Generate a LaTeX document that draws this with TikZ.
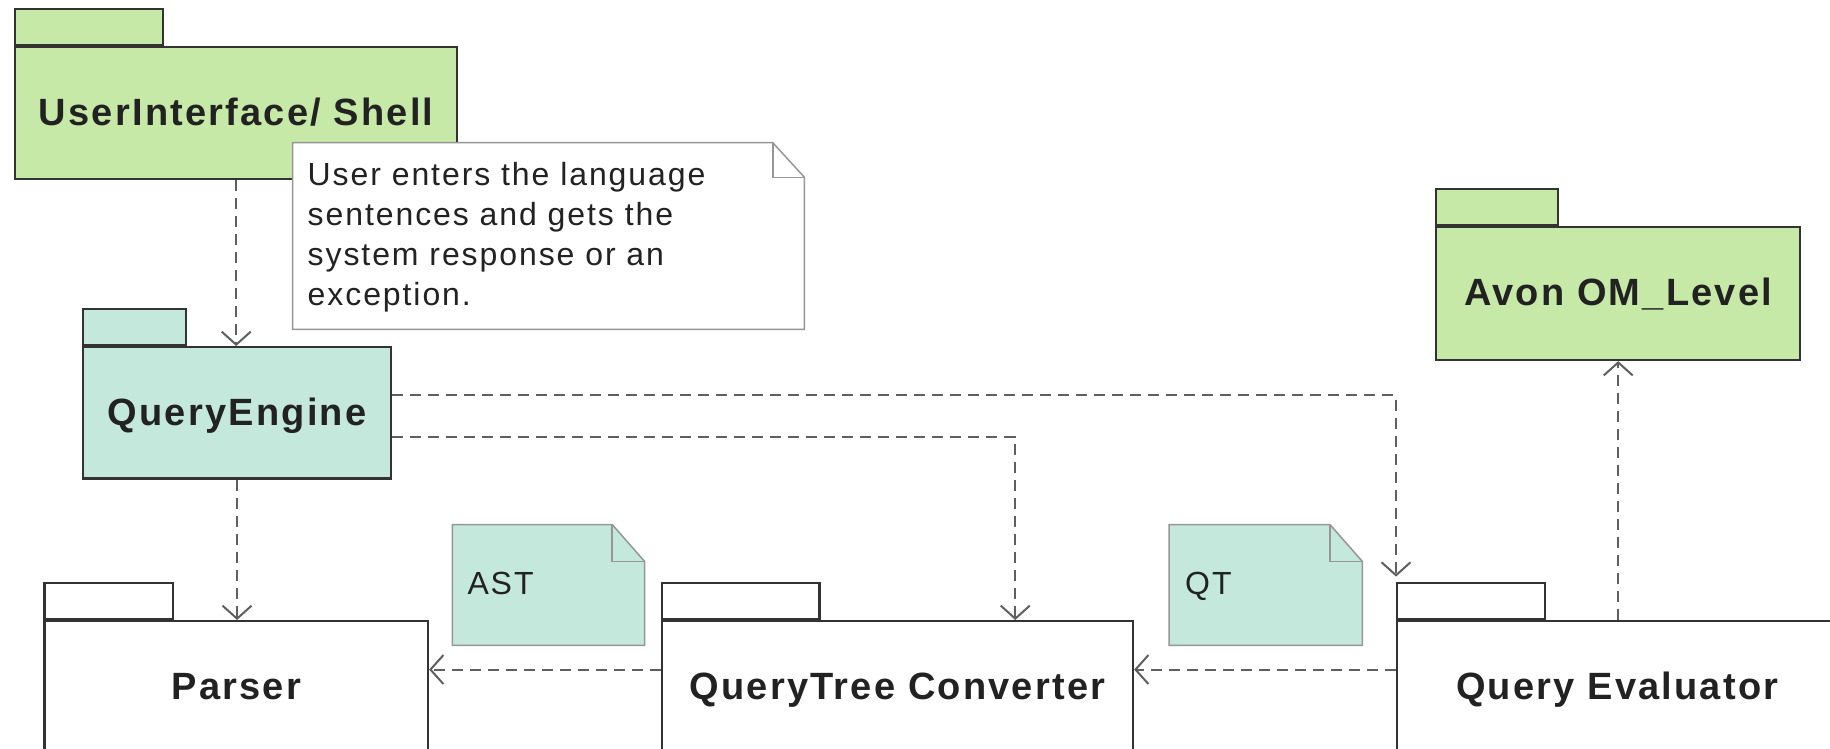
\documentclass[tikz,border=0pt]{standalone}
\usepackage{fontspec}
\setmainfont{Liberation Sans}
\newfontfamily\titlefam[LetterSpace=5.8]{Liberation Sans}
\newfontfamily\notefam[LetterSpace=6]{Liberation Sans}
\usetikzlibrary{arrows.meta}

\definecolor{pkggreen}{RGB}{199,233,167}
\definecolor{pkgteal}{RGB}{196,232,220}
\definecolor{linedark}{RGB}{51,51,51}
\definecolor{depgray}{RGB}{95,95,95}
\definecolor{notegray}{RGB}{150,150,150}
\definecolor{textdark}{RGB}{34,34,34}

\begin{document}
\begin{tikzpicture}[x=1pt,y=-1pt,
  pkgbody/.style={draw=linedark, line width=2.4pt, inner sep=0pt, anchor=north west,
    text=textdark, font=\titlefam\bfseries\fontsize{38}{44}\selectfont,
    text height=27.4pt, text depth=3pt},
  pkgtab/.style={draw=linedark, line width=2.4pt, inner sep=0pt, anchor=south west,
    minimum height=36pt},
  dep/.style={draw=depgray, line width=2pt, dash pattern=on 11pt off 7pt,
    -{Straight Barb[length=13pt,width=29pt,line width=2pt]}},
  notebox/.style={inner sep=0pt, anchor=north west},
  noteshape/.style={draw=notegray, line width=1.5pt, line join=miter},
  notetext/.style={inner sep=0pt, anchor=north west, align=left, text=textdark,
    font=\notefam\fontsize{32}{40}\selectfont},
  notelabel/.style={inner sep=0pt, anchor=base west, text=textdark,
    font=\notefam\fontsize{32}{40}\selectfont}
]
\useasboundingbox (0,0) rectangle (1830,749);
\clip (0,0) rectangle (1830,749);

% packages
\node[pkgbody, fill=pkggreen, minimum width=442pt, minimum height=132pt] (ui) at (14,46) {UserInterface/ Shell};
\node[pkgtab, fill=pkggreen, minimum width=148pt] (uitab) at (ui.north west) {};

\node[pkgbody, fill=pkgteal, minimum width=308.3pt, minimum height=131.3pt] (qe) at (81.7,346) {QueryEngine};
\node[pkgtab, fill=pkgteal, minimum width=103.3pt] (qetab) at (qe.north west) {};

\node[pkgbody, fill=pkggreen, minimum width=364pt, minimum height=132.7pt] (avon) at (1435,226) {Avon OM\_Level};
\node[pkgtab, fill=pkggreen, minimum width=122pt] (avontab) at (avon.north west) {};

\node[pkgbody, fill=white, minimum width=383.4pt, minimum height=131.5pt] (parser) at (43.3,620) {Parser};
\node[pkgtab, fill=white, minimum width=128.4pt] (parsertab) at (parser.north west) {};

\node[pkgbody, fill=white, minimum width=470.7pt, minimum height=131.5pt] (qtc) at (661,620) {QueryTree Converter};
\node[pkgtab, fill=white, minimum width=157.3pt] (qtctab) at (qtc.north west) {};

\node[pkgbody, fill=white, minimum width=440pt, minimum height=131.5pt] (ev) at (1396,620) {Query Evaluator};
\node[pkgtab, fill=white, minimum width=147.7pt] (evtab) at (ev.north west) {};

% comment note on the shell
\node[notebox, minimum width=511.3pt, minimum height=186.3pt] (usernote) at (292.7,142.7) {};
\draw[noteshape, fill=white] (usernote.north west) -- ([xshift=-31.6pt]usernote.north east)
  -- ([yshift=-34.6pt]usernote.north east) -- (usernote.south east) -- (usernote.south west) -- cycle;
\draw[noteshape] ([xshift=-31.6pt]usernote.north east) |- ([yshift=-34.6pt]usernote.north east);
\node[notetext] (usertext) at (307.5,162.2) {User enters the language\\sentences and gets the\\system response or an\\exception.};

% artefact notes
\node[notebox, minimum width=192pt, minimum height=120.5pt] (astnote) at (452.3,524.5) {};
\draw[noteshape, fill=pkgteal] (astnote.north west) -- ([xshift=-32.5pt]astnote.north east)
  -- ([yshift=-37pt]astnote.north east) -- (astnote.south east) -- (astnote.south west) -- cycle;
\draw[noteshape] ([xshift=-32.5pt]astnote.north east) |- ([yshift=-37pt]astnote.north east);
\node[notelabel] (asttext) at (467.3,594) {AST};

\node[notebox, minimum width=193pt, minimum height=120.5pt] (qtnote) at (1169,524.5) {};
\draw[noteshape, fill=pkgteal] (qtnote.north west) -- ([xshift=-32.5pt]qtnote.north east)
  -- ([yshift=-37pt]qtnote.north east) -- (qtnote.south east) -- (qtnote.south west) -- cycle;
\draw[noteshape] ([xshift=-32.5pt]qtnote.north east) |- ([yshift=-37pt]qtnote.north east);
\node[notelabel] (qttext) at (1185,594) {QT};

% dependencies
\draw[dep] (ui.south) -- (ui.south |- qe.north);
\draw[dep] (qe.south) -- (qe.south |- parser.north);
\draw[dep] ([yshift=-23.7pt]qe.east) -| ([xshift=117.7pt]qtc.north);
\draw[dep, shorten >=5pt] ([yshift=17.6pt]qe.east) -| (evtab.north west);
\draw[dep] (avon.south |- ev.north) -- (avon.south);
\draw[dep] ([yshift=17.4pt]ev.west) -- ([yshift=17.4pt]qtc.east);
\draw[dep] ([yshift=17.4pt]qtc.west) -- ([yshift=17.4pt]parser.east);
\end{tikzpicture}
\end{document}
